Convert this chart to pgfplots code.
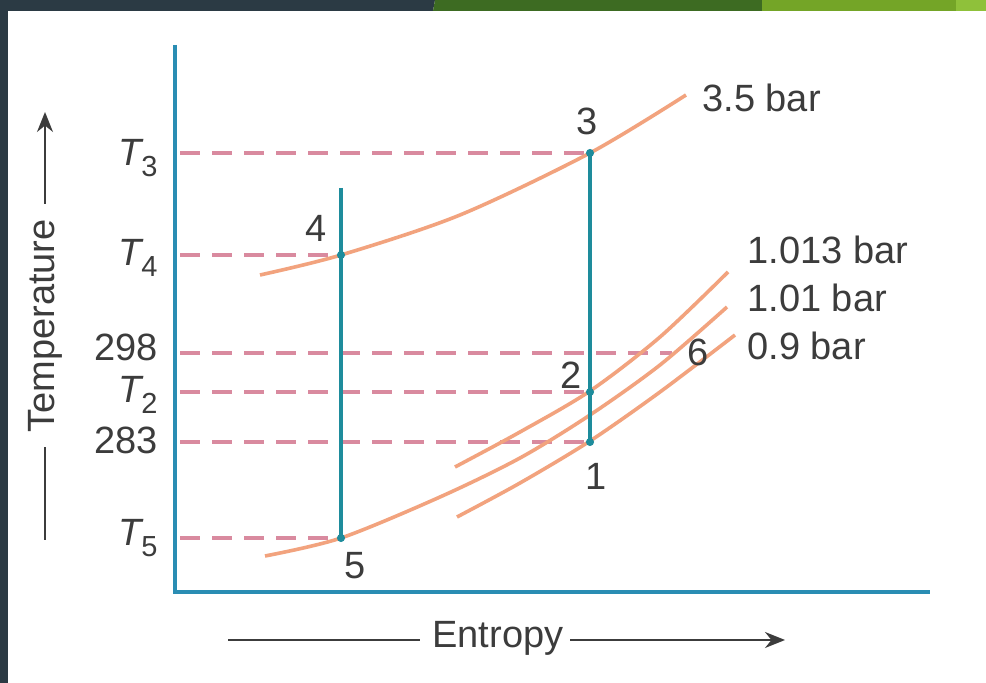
\documentclass[border=0pt]{standalone}
\usepackage{pgfplots}
\pgfplotsset{compat=1.18}
\usepackage{fontspec}
\setmainfont{Liberation Sans}
\usetikzlibrary{arrows.meta}
\definecolor{slate}{HTML}{2B3A44}
\definecolor{dgreen}{HTML}{3D6B22}
\definecolor{lgreen}{HTML}{74A527}
\definecolor{llgreen}{HTML}{8FC13A}
\definecolor{axblue}{HTML}{2A8DB3}
\definecolor{proc}{HTML}{1E8C9C}
\definecolor{curve}{HTML}{F2A37E}
\definecolor{dashc}{HTML}{D98A9F}
\definecolor{txt}{HTML}{3C3C3C}
\newcommand{\Tsub}[1]{{\itshape T}\raisebox{-0.55ex}{\fontsize{14.5}{14.5}\selectfont #1}}
\tikzset{lab/.style={font=\fontsize{19}{22}\selectfont, text=txt, inner sep=1pt}}
\begin{document}
\begin{tikzpicture}
\begin{axis}[scale only axis, width=493pt, height=341.5pt,
  xmin=0, xmax=986, ymin=0, ymax=683, y dir=reverse,
  hide axis, clip=false]
% background
\addplot[fill=white, draw=none] coordinates {(0,0)(986,0)(986,683)(0,683)};
\addplot[fill=slate, draw=none] coordinates {(0,0)(8,0)(8,683)(0,683)};
\addplot[fill=slate, draw=none] coordinates {(0,0)(435,0)(433,11)(0,11)};
\addplot[fill=dgreen, draw=none] coordinates {(435,0)(762,0)(762,11)(433,11)};
\addplot[fill=lgreen, draw=none] coordinates {(762,0)(956,0)(956,11)(762,11)};
\addplot[fill=llgreen, draw=none] coordinates {(956,0)(986,0)(986,11)(956,11)};
% dashed levels
\addplot[dashc, line width=1.8pt, dash pattern=on 10pt off 6pt] coordinates {(180,153)(590,153)};
\addplot[dashc, line width=1.8pt, dash pattern=on 10pt off 6pt] coordinates {(180,255)(341,255)};
\addplot[dashc, line width=1.8pt, dash pattern=on 10pt off 6pt] coordinates {(180,353)(672,353)};
\addplot[dashc, line width=1.8pt, dash pattern=on 10pt off 6pt] coordinates {(180,392)(590,392)};
\addplot[dashc, line width=1.8pt, dash pattern=on 10pt off 6pt] coordinates {(180,442)(590,442)};
\addplot[dashc, line width=1.8pt, dash pattern=on 10pt off 6pt] coordinates {(180,538)(341,538)};
% pressure curves
\addplot[curve, line width=1.8pt, smooth] coordinates {(260,275)(341,255)(460,215)(590,153)(686,95)};
\addplot[curve, line width=1.8pt, smooth] coordinates {(265,556)(341,538)(440,497)(520,458)(590,415)(660,365)(727,307)};
\addplot[curve, line width=1.8pt, smooth] coordinates {(455,467)(520,432)(590,391)(660,337)(728,272)};
\addplot[curve, line width=1.8pt, smooth] coordinates {(457,517)(520,483)(590,441)(660,392)(735,335)};
% axes
\addplot[axblue, line width=2.4pt] coordinates {(175,45)(175,592)(930,592)};
% process lines
\addplot[proc, line width=1.8pt] coordinates {(341,188)(341,538)};
\addplot[proc, line width=1.8pt] coordinates {(590,153)(590,442)};
\addplot[proc, only marks, mark=*, mark size=1.8pt] coordinates {(341,255)(341,538)(590,153)(590,392)(590,442)};
% axis-title arrows
\addplot[txt, line width=1.1pt] coordinates {(45,540)(45,447)};
\addplot[txt, line width=1.1pt, -{Stealth[length=10pt,width=8pt]}] coordinates {(45,204)(45,112)};
\addplot[txt, line width=1.1pt] coordinates {(228,640)(420,640)};
\addplot[txt, line width=1.1pt, -{Stealth[length=10pt,width=8pt]}] coordinates {(570,640)(785,640)};
% texts
\node[lab, rotate=90] at (axis cs:45,326) {Temperature};
\node[lab] at (axis cs:498,638) {Entropy};
\node[lab, anchor=east] at (axis cs:160,158) {\Tsub{3}};
\node[lab, anchor=east] at (axis cs:160,258) {\Tsub{4}};
\node[lab, anchor=east] at (axis cs:160,347) {298};
\node[lab, anchor=east] at (axis cs:160,395) {\Tsub{2}};
\node[lab, anchor=east] at (axis cs:160,440) {283};
\node[lab, anchor=east] at (axis cs:160,538) {\Tsub{5}};
\node[lab] at (axis cs:587,121) {3};
\node[lab] at (axis cs:316,228) {4};
\node[lab] at (axis cs:355,566) {5};
\node[lab] at (axis cs:571,375) {2};
\node[lab] at (axis cs:596,476) {1};
\node[lab] at (axis cs:698,352) {6};
\node[lab, anchor=west] at (axis cs:700,98) {3.5 bar};
\node[lab, anchor=west] at (axis cs:745,250) {1.013 bar};
\node[lab, anchor=west] at (axis cs:745,298) {1.01 bar};
\node[lab, anchor=west] at (axis cs:745,346) {0.9 bar};
\end{axis}
\end{tikzpicture}
\end{document}
